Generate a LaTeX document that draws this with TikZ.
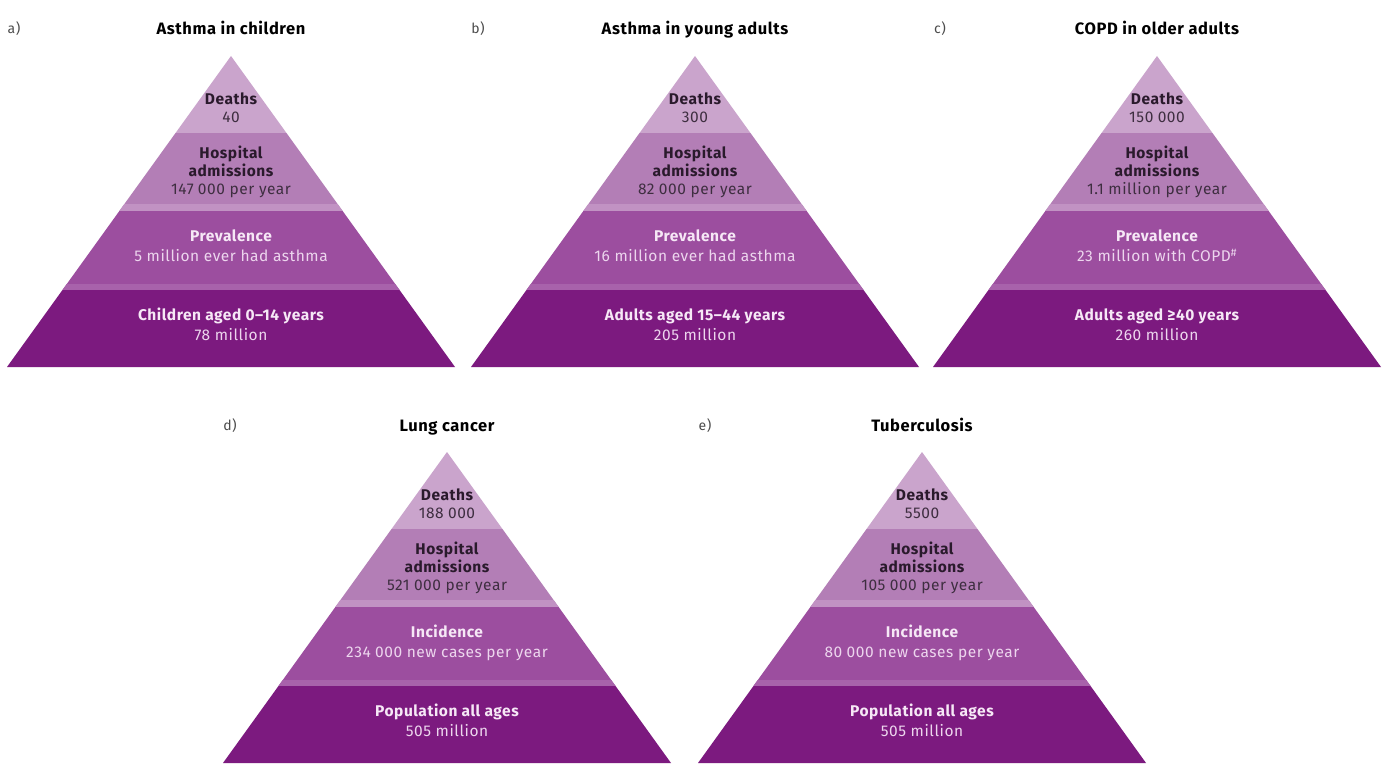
\documentclass[tikz,border=0pt]{standalone}
\usepackage{fontspec}
\setmainfont{Fira Sans}[LetterSpace=3.5]
\newcommand\ths{\hspace{0.28em}}
\definecolor{cA}{HTML}{CAA4CC}
\definecolor{cB}{HTML}{B37EB6}
\definecolor{cBs}{HTML}{C192C3}
\definecolor{cC}{HTML}{9C4E9F}
\definecolor{cCs}{HTML}{A862AB}
\definecolor{cD}{HTML}{7C1A7F}
\definecolor{darktx}{HTML}{2A1A2C}
\definecolor{valtx}{HTML}{3E2E40}
\definecolor{lighttx}{HTML}{F6E8F6}
\definecolor{lightval}{HTML}{EDD6EE}
\tikzset{
  ttl/.style={font=\fontsize{16.5}{18}\selectfont\bfseries, text=black, inner sep=0pt, anchor=base},
  lettr/.style={font=\fontsize{14}{16}\selectfont, text=black!70, inner sep=0pt, anchor=base},
  hd/.style={font=\fontsize{15.5}{18}\selectfont\bfseries, text=darktx, inner sep=0pt, anchor=base},
  vl/.style={font=\fontsize{15.5}{18}\selectfont, text=valtx, inner sep=0pt, anchor=base},
  hdw/.style={font=\fontsize{15.5}{18}\selectfont\bfseries, text=lighttx, inner sep=0pt, anchor=base},
  vlw/.style={font=\fontsize{15.5}{18}\selectfont, text=lightval, inner sep=0pt, anchor=base},
}
\newcommand\pyrshape[5]{%
  \begin{scope}[shift={(#2,#3)}]
    \path[clip] (0,0) -- (224,311) -- (-224,311) -- cycle;
    \fill[cA] (-230,-1) rectangle (230,77);
    \fill[cB] (-230,77) rectangle (230,155);
    \fill[cBs] (-230,148) rectangle (230,155);
    \fill[cC] (-230,155) rectangle (230,234);
    \fill[cCs] (-230,228) rectangle (230,234);
    \fill[cD] (-230,234) rectangle (230,312);
  \end{scope}
  \node[lettr] (#1-l) at (#2-217,#3-22) {#4};
  \node[ttl] (#1-t) at (#2,#3-21) {#5};
}
\newcommand\pyrtext[9]{%
  \node[hd] (#1-dh) at (#2,#3+48.5) {Deaths};
  \node[vl] (#1-dv) at (#2,#3+66.5) {#4};
  \node[hd] (#1-h1) at (#2,#3+102.5) {Hospital};
  \node[hd] (#1-h2) at (#2,#3+120.5) {admissions};
  \node[vl] (#1-hv) at (#2,#3+138.5) {#5};
  \node[hdw] (#1-ph) at (#2,#3+185.5) {#6};
  \node[vlw] (#1-pv) at (#2,#3+205.5) {#7};
  \node[hdw] (#1-bh) at (#2,#3+264.5) {#8};
  \node[vlw] (#1-bv) at (#2,#3+284.5) {#9};
}
\begin{document}
\begin{tikzpicture}[x=1pt,y=-1pt]
\useasboundingbox[fill=white] (0,0) rectangle (1383,765);
\pyrshape{a}{231}{56}{a)}{Asthma in children}
\pyrtext{a}{231}{56}{40}{147\ths000 per year}{Prevalence}{5 million ever had asthma}{Children aged 0–14 years}{78 million}
\pyrshape{b}{695}{56}{b)}{Asthma in young adults}
\pyrtext{b}{695}{56}{300}{82\ths000 per year}{Prevalence}{16 million ever had asthma}{Adults aged 15–44 years}{205 million}
\pyrshape{c}{1157}{56}{c)}{COPD in older adults}
\pyrtext{c}{1157}{56}{150\ths000}{1.1 million per year}{Prevalence}{23 million with COPD\textsuperscript{\#}}{Adults aged ≥40 years}{260 million}
\pyrshape{d}{447}{452}{d)}{Lung cancer}
\pyrtext{d}{447}{452}{188\ths000}{521\ths000 per year}{Incidence}{234\ths000 new cases per year}{Population all ages}{505 million}
\pyrshape{e}{922}{452}{e)}{Tuberculosis}
\pyrtext{e}{922}{452}{5500}{105\ths000 per year}{Incidence}{80\ths000 new cases per year}{Population all ages}{505 million}
\end{tikzpicture}
\end{document}
